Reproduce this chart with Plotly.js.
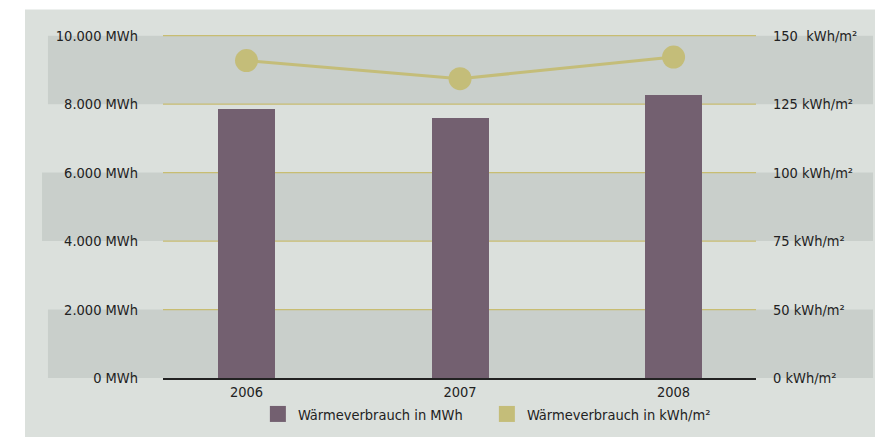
<!DOCTYPE html>
<html>
<head>
<meta charset="utf-8">
<script src="https://cdn.plot.ly/plotly-3.0.1.min.js"></script>
<style>
html,body{margin:0;padding:0;background:#fff;}
#chart{width:875px;height:437px;}
</style>
</head>
<body>
<div id="chart"></div>
<script>
// ---- data ----
const years = ['2006', '2007', '2008'];
const waermeMWh = [7870, 7600, 8280];
const waermeKWhm2 = [140.9, 134.3, 142.2];
const leftTickVals = [0, 2000, 4000, 6000, 8000, 10000];
const leftTickText = ['0 MWh', '2.000 MWh', '4.000 MWh', '6.000 MWh', '8.000 MWh', '10.000 MWh'];
const rightTickVals = [25, 50, 75, 100, 125, 150];
const rightTickText = ['0 kWh/m²', '50 kWh/m²', '75 kWh/m²', '100 kWh/m²', '125 kWh/m²', '150  kWh/m²'];
const bandRanges = [[0, 2000], [4000, 6000], [8000, 10000]];
const nameMWh = 'Wärmeverbrauch in MWh';
const nameKWh = 'Wärmeverbrauch in kWh/m²';

const FONT = '"DejaVu Sans Condensed", "Liberation Sans Narrow", sans-serif';
const FS = 14.5;
const BAR = '#736070';
const GOLD = '#c4bd79';
const GRID = '#c8bd72';
const TXT = '#222222';
const Y_MAX = 10000;
const Y_TOP = 10020;
const Y2_MIN = 25, Y2_MAX = 150;
const Y2_TOP = Y2_MIN + (Y2_MAX - Y2_MIN) * Y_TOP / Y_MAX;

const traces = [
  {type: 'bar', x: years, y: waermeMWh, name: nameMWh, marker: {color: BAR},
   width: 0.267, showlegend: false, hoverinfo: 'y'},
  {type: 'scatter', mode: 'lines+markers', x: years, y: waermeKWhm2, name: nameKWh, yaxis: 'y2',
   line: {color: GOLD, width: 3}, marker: {color: GOLD, size: 23}, showlegend: false, cliponaxis: false},
  {type: 'scatter', mode: 'markers', x: years, y: waermeMWh, name: nameMWh, visible: 'legendonly',
   marker: {color: BAR, symbol: 'square', size: 18}},
  {type: 'scatter', mode: 'markers', x: years, y: waermeKWhm2, name: nameKWh, visible: 'legendonly', yaxis: 'y2',
   marker: {color: GOLD, symbol: 'square', size: 18}}
];

const shapes = [
  {type: 'rect', xref: 'paper', yref: 'paper', x0: -0.3, x1: 1.3, y0: 1.074, y1: 1.2, fillcolor: '#ffffff', line: {width: 0}, layer: 'below'},
  {type: 'rect', xref: 'paper', yref: 'paper', x0: -0.3, x1: -0.2327, y0: -0.3, y1: 1.2, fillcolor: '#ffffff', line: {width: 0}, layer: 'below'}
];
bandRanges.forEach((b, i) => {
  shapes.push({type: 'rect', xref: 'paper', yref: 'paper', x0: i === 1 ? -0.204 : -0.194, x1: 1.1973,
    y0: b[0] / Y_TOP, y1: b[1] / Y_TOP, fillcolor: '#c9cfcb', line: {width: 0}, layer: 'below'});
});
leftTickVals.filter(v => v > 0).forEach(v => {
  shapes.push({type: 'line', xref: 'paper', yref: 'y', x0: 0, x1: 1, y0: v, y1: v,
    line: {color: GRID, width: 1.3}, layer: 'between'});
});

const layout = {
  width: 875, height: 437,
  margin: {l: 163, r: 119, t: 35, b: 59, pad: 0, autoexpand: false},
  paper_bgcolor: '#dbe0dc',
  plot_bgcolor: 'rgba(0,0,0,0)',
  font: {family: FONT, size: FS, color: TXT},
  showlegend: true,
  legend: {orientation: 'h', x: 0.16, xanchor: 'left', y: -0.105, yanchor: 'middle',
    bgcolor: 'rgba(0,0,0,0)', font: {family: FONT, size: FS, color: TXT},
    entrywidth: 184, entrywidthmode: 'pixels', itemclick: false},
  xaxis: {type: 'category', range: [-0.391, 2.386], showgrid: false, zeroline: false,
    showline: true, linecolor: '#222', linewidth: 1.5, ticks: '', tickfont: {size: FS},
    ticklabelstandoff: 0, fixedrange: true},
  yaxis: {range: [0, Y_TOP], tickvals: leftTickVals, ticktext: leftTickText, showgrid: false,
    zeroline: false, showline: false, ticks: '', ticklabelstandoff: 24, fixedrange: true},
  yaxis2: {overlaying: 'y', side: 'right', range: [Y2_MIN, Y2_TOP], tickvals: rightTickVals, ticktext: rightTickText,
    showgrid: false, zeroline: false, showline: false, ticks: '', ticklabelstandoff: 16, fixedrange: true},
  shapes: shapes,
  bargap: 0
};

Plotly.newPlot('chart', traces, layout, {displayModeBar: false, staticPlot: true}).then(() => {
  document.querySelectorAll('#chart .legend .traces').forEach(e => { e.style.opacity = 1; });
});
</script>
</body>
</html>
